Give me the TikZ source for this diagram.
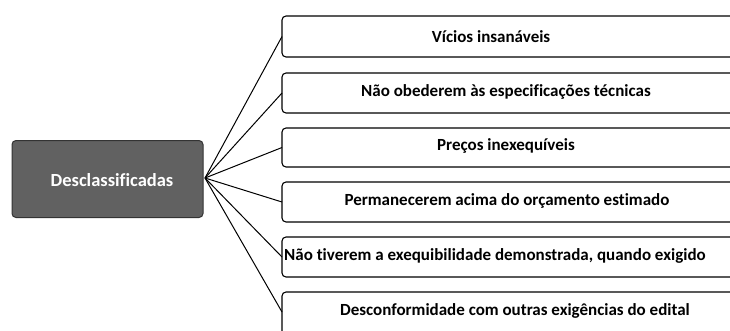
\documentclass[tikz,border=0pt]{standalone}
\usepackage{fontspec}
\setmainfont{Carlito}[Ligatures=NoCommon]
\begin{document}
\begin{tikzpicture}[x=1pt,y=-1pt,
  leaf/.style={draw=black, line width=1.1pt, rounded corners=4pt, fill=white},
  leaftext/.style={font=\bfseries\fontsize{17}{19}\selectfont, anchor=center, inner sep=0pt},
  hub/.style={draw=black!80, line width=1pt, rounded corners=4pt, fill=black!62, minimum width=191pt, minimum height=77pt, inner sep=0pt},
  link/.style={draw=black, line width=1pt}]
\useasboundingbox (0,0) rectangle (730,330);
\clip (0,0) rectangle (730,330);
\node[hub] (c) at (107.5,179) {};
\node[font=\bfseries\fontsize{18.5}{20}\selectfont, text=white, inner sep=0pt] (ct) at (112,180) {Desclassificadas};
\coordinate (h) at (205,178);
% boxes
\path[leaf] (282,16) rectangle (745,57);
\coordinate (b1) at (282,36.5);
\path[leaf] (282,73) rectangle (745,113);
\coordinate (b2) at (282,93);
\path[leaf] (282,128) rectangle (745,167);
\coordinate (b3) at (282,147.5);
\path[leaf] (282,182) rectangle (745,222);
\coordinate (b4) at (282,202);
\path[leaf] (282,237) rectangle (745,277);
\coordinate (b5) at (282,257);
\path[leaf] (282,292) rectangle (745,340);
\coordinate (b6) at (282,312);
\node[leaftext] (t1) at (491,37) {Vícios insanáveis};
\node[leaftext] (t2) at (506,92) {Não obederem às especificações técnicas};
\node[leaftext] (t3) at (506,146) {Preços inexequíveis};
\node[leaftext] (t4) at (507,201) {Permanecerem acima do orçamento estimado};
\node[leaftext, anchor=west] (t5) at (284,256) {Não tiverem a exequibilidade demonstrada, quando exigido};
\node[leaftext] (t6) at (515,311) {Desconformidade com outras exigências do edital};
\foreach \b in {b1,b2,b3,b4,b5,b6} \draw[link] (h) -- (\b);
\end{tikzpicture}
\end{document}
